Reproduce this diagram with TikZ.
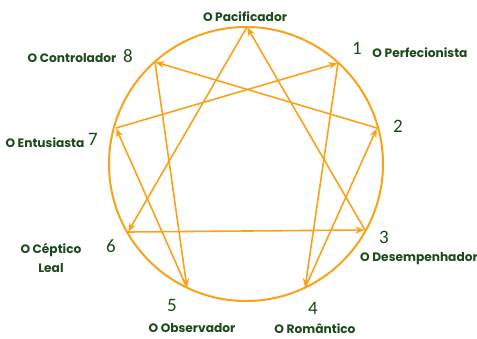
\documentclass[tikz,border=0pt]{standalone}
\usepackage{fontspec}
\setmainfont{Poppins}
\newfontfamily\numfont{Carlito}
\usetikzlibrary{arrows.meta}
\definecolor{orng}{HTML}{F8A31B}
\definecolor{dgreen}{HTML}{1D4A1D}
\begin{document}
\begin{tikzpicture}[x=1pt,y=-1pt,
  arr/.style={draw=orng, line width=1.6pt, -{Stealth[length=9pt,width=7pt]}, shorten >=0.5pt},
  lbl/.style={text=dgreen, font=\fontsize{12.2}{19}\selectfont\bfseries, inner sep=0pt, align=center},
  num/.style={text=dgreen, font=\numfont\fontsize{19}{20}\selectfont, inner sep=0pt}]
\useasboundingbox (0,0) rectangle (477,338);
\fill[white] (0,0) rectangle (477,338);
\node[circle, draw=orng, line width=2pt, minimum size=274pt, inner sep=0pt] (c) at (246,164) {};
\coordinate (v9) at (247,27);
\coordinate (v1) at (338,63);
\coordinate (v2) at (377,128);
\coordinate (v3) at (365,230);
\coordinate (v4) at (305,288);
\coordinate (v5) at (187,288);
\coordinate (v6) at (128,232);
\coordinate (v7) at (116,128);
\coordinate (v8) at (155,62);
% hexad
\draw[arr] (v1) -- (v4);
\draw[arr] (v4) -- (v2);
\draw[arr] (v2) -- (v8);
\draw[arr] (v8) -- (v5);
\draw[arr] (v5) -- (v7);
\draw[arr] (v7) -- (v1);
% triangle
\draw[arr] (v9) -- (v6);
\draw[arr] (v6) -- (v3);
\draw[arr] (v3) -- (v9);
% labels
\node[lbl] (l9) at (245,17) {O Pacificador};
\node[lbl] (l8) at (72,58) {O Controlador};
\node[num] (n8) at (128,56) {8};
\node[lbl] (l1) at (420,53) {O Perfecionista};
\node[num] (n1) at (357,48) {1};
\node[num] (n2) at (398,126) {2};
\node[lbl] (l7) at (45,143) {O Entusiasta};
\node[num] (n7) at (93,139) {7};
\node[lbl] (l6) at (51,258) {O Céptico\\Leal};
\node[num] (n6) at (111,246) {6};
\node[num] (n3) at (384,237) {3};
\node[lbl] (l3) at (419,259) {O Desempenhador};
\node[num] (n5) at (172,305) {5};
\node[lbl] (l5) at (192,328.5) {O Observador};
\node[num] (n4) at (313,308) {4};
\node[lbl] (l4) at (315,328.5) {O Romântico};
\end{tikzpicture}
\end{document}
